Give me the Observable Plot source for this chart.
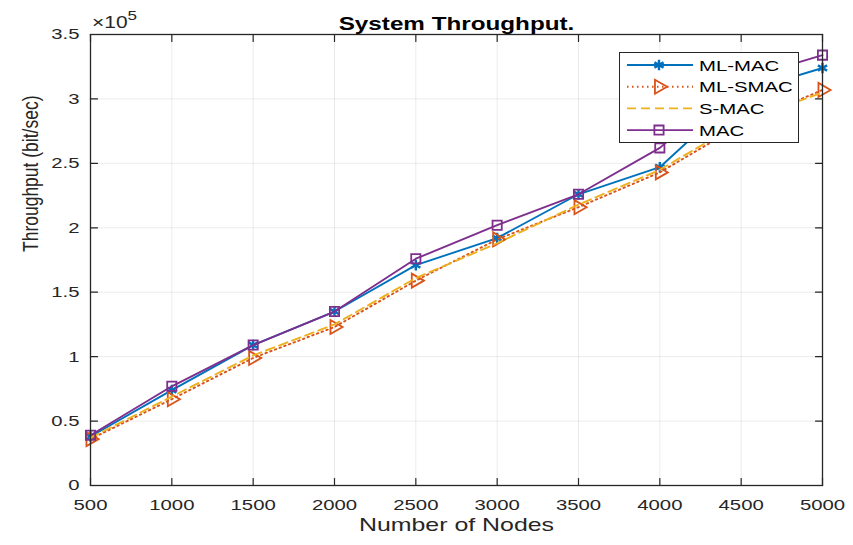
<!DOCTYPE html>
<html>
<head>
<meta charset="utf-8">
<script src="https://cdn.jsdelivr.net/npm/d3@7"></script>
<script src="https://cdn.jsdelivr.net/npm/@observablehq/plot@0.6"></script>
<style>
  html, body { margin: 0; padding: 0; background: #fff; }
  #wrap { position: relative; width: 853px; height: 545px; font-family: "Liberation Sans", Arial, sans-serif; color: #262626; }
  #legend { position: absolute; left: 619px; top: 52px; width: 180px; height: 91px; box-sizing: border-box; border: 1px solid #262626; background: #fff; }
</style>
</head>
<body>
<div id="wrap"></div>
<script>
const nodes = [500, 1000, 1500, 2000, 2500, 3000, 3500, 4000, 4500, 5000];
const mlMac  = [38000, 74000, 109000, 135000, 171000, 192000, 226000, 247000, 305000, 324000];
const mlSmac = [36000, 67000, 99000, 123000, 159000, 191000, 216000, 243000, 280000, 307000];
const sMac   = [37000, 69000, 101000, 125000, 161000, 188000, 218000, 245000, 282000, 305000];
const mac    = [39000, 77000, 109000, 135000, 176000, 202000, 226000, 262000, 315000, 334000];

const seriesNames = ["ML-MAC", "ML-SMAC", "S-MAC", "MAC"];
const seriesValues = [mlMac, mlSmac, sMac, mac];
const seriesColors = ["#0072BD", "#D95319", "#EDB120", "#7E2F8E"];
const seriesDash = [null, "1.5,3.5", "9,5", null];
const seriesSymbol = ["asterisk", "triangle", null, "square"];
const seriesRotate = [0, 90, 0, 0];

const xTicks = [500, 1000, 1500, 2000, 2500, 3000, 3500, 4000, 4500, 5000];
const yTicks = [0, 50000, 100000, 150000, 200000, 250000, 300000, 350000];
const yTickLabels = ["0", "0.5", "1", "1.5", "2", "2.5", "3", "3.5"];

const title = "System Throughput.";
const xLabel = "Number of Nodes";
const yLabel = "Throughput (bit/sec)";
const TEXT_STRETCH = 1.31; // reference text is horizontally stretched

const rows = [];
seriesNames.forEach((name, i) => {
  nodes.forEach((n, j) => rows.push({series: name, idx: i, nodes: n, value: seriesValues[i][j]}));
});

const symR = s => s === "asterisk" ? 5 : 5.2;

const seriesMarks = [];
seriesNames.forEach((name, i) => {
  const data = rows.filter(d => d.series === name);
  seriesMarks.push(Plot.line(data, {
    x: "nodes", y: "value", stroke: seriesColors[i], strokeWidth: 1.9,
    strokeDasharray: seriesDash[i] ?? undefined
  }));
  if (seriesSymbol[i]) {
    seriesMarks.push(Plot.dot(data, {
      x: "nodes", y: "value", symbol: seriesSymbol[i], stroke: seriesColors[i],
      strokeWidth: seriesSymbol[i] === "asterisk" ? 2.4 : 1.8, r: symR(seriesSymbol[i]),
      rotate: seriesRotate[i], fill: "none"
    }));
  }
});

const tickShape = {draw(context, l) { context.moveTo(0, 0); context.lineTo(0, -l); }};
const inTick = (data, ch, frameAnchor, rotate) => Plot.vector(data, {
  [ch]: d => d, frameAnchor, rotate, length: 7, anchor: "start", shape: tickShape,
  stroke: "#262626", strokeWidth: 1.2
});

const yFmt = d => yTickLabels[yTicks.indexOf(d)];

const chart = Plot.plot({
  width: 853, height: 545,
  marginLeft: 90, marginRight: 31, marginTop: 34, marginBottom: 60,
  style: {fontFamily: "'Liberation Sans', Arial, sans-serif", fontSize: "15.5px", color: "#262626", background: "#fff"},
  x: {domain: [500, 5000]},
  y: {domain: [0, 350000]},
  marks: [
    Plot.gridX(xTicks, {stroke: "#000", strokeOpacity: 0.08}),
    Plot.gridY(yTicks, {stroke: "#000", strokeOpacity: 0.08}),
    ...seriesMarks,
    Plot.frame({stroke: "#262626", strokeWidth: 1.3}),
    inTick(xTicks, "x", "bottom", 0),
    inTick(xTicks, "x", "top", 180),
    inTick(yTicks, "y", "left", 90),
    inTick(yTicks, "y", "right", -90),
    Plot.axisX(xTicks, {anchor: "bottom", tickSize: 0, tickPadding: 13, tickFormat: d => String(d), label: null, fontSize: 15.5, fill: "#262626"}),
    Plot.axisY(yTicks, {anchor: "left", tickSize: 0, tickPadding: 11, tickFormat: yFmt, label: null, fontSize: 15.5, fill: "#262626"}),
    Plot.text([xLabel], {frameAnchor: "bottom", dy: 45, fontSize: 19, fill: "#262626"}),
    Plot.text([yLabel], {frameAnchor: "left", dx: -60, dy: -8, rotate: -90, fontSize: 17.5, fill: "#262626"}),
    Plot.text([title], {frameAnchor: "top", dy: -18, fontSize: 18.5, fontWeight: "bold", fill: "#000"})
  ]
});

const wrap = document.getElementById("wrap");
wrap.appendChild(chart);

// ×10^5 exponent label at the top-left corner of the axes
const svg = d3.select(chart);
const exp = svg.append("text").attr("x", 92).attr("y", 28).attr("text-anchor", "start")
  .attr("font-size", 16).attr("fill", "#262626");
exp.append("tspan").text("×10");
exp.append("tspan").attr("font-size", 13).attr("dy", -8).text("5");

// legend
const legend = document.createElement("div");
legend.id = "legend";
wrap.appendChild(legend);
const lsvg = d3.select(legend).append("svg").attr("width", 178).attr("height", 89)
  .style("font-family", "'Liberation Sans', Arial, sans-serif").style("font-size", "15.5px");
seriesNames.forEach((name, i) => {
  const y = 12 + i * 21.7;
  const g = lsvg.append("g");
  g.append("line").attr("x1", 7).attr("x2", 73).attr("y1", y).attr("y2", y)
    .attr("stroke", seriesColors[i]).attr("stroke-width", 1.9)
    .attr("stroke-dasharray", seriesDash[i]);
  if (seriesSymbol[i]) {
    const sym = {asterisk: d3.symbolAsterisk, triangle: d3.symbolTriangle, square: d3.symbolSquare}[seriesSymbol[i]];
    const r = symR(seriesSymbol[i]);
    g.append("path").attr("d", d3.symbol(sym, Math.PI * r * r)())
      .attr("transform", `translate(39,${y}) rotate(${seriesRotate[i]})`)
      .attr("fill", "none").attr("stroke", seriesColors[i])
      .attr("stroke-width", seriesSymbol[i] === "asterisk" ? 2.4 : 1.8);
  }
  g.append("text").attr("x", 79).attr("y", y).attr("dy", "0.36em").attr("fill", "#000").text(name);
});

// stretch texts horizontally to match the reference's wide lettering
wrap.querySelectorAll("text").forEach(t => {
  const tr = t.getAttribute("transform") || "";
  if (tr.includes("rotate")) {
    // rotated label: widen glyph heights (screen x direction)
    t.setAttribute("transform", tr + ` scale(1,${TEXT_STRETCH})`);
    return;
  }
  const len = t.getComputedTextLength();
  if (len > 0) {
    t.setAttribute("textLength", (len * TEXT_STRETCH).toFixed(1));
    t.setAttribute("lengthAdjust", "spacingAndGlyphs");
  }
});
</script>
</body>
</html>
